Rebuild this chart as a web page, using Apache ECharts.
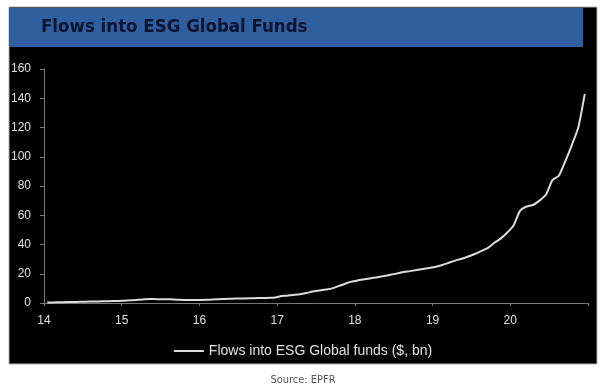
<!DOCTYPE html>
<html>
<head>
<meta charset="utf-8">
<script src="https://cdn.jsdelivr.net/npm/echarts@6/dist/echarts.min.js"></script>
<style>
html,body{margin:0;padding:0;background:#fff;}
#c{width:606px;height:388px;}
</style>
</head>
<body>
<div id="c"></div>
<script>
// Month labels (year-month) and cumulative flows ($ bn)
const months = [
 '2014-01','2014-02','2014-03','2014-04','2014-05','2014-06','2014-07','2014-08','2014-09','2014-10','2014-11','2014-12',
 '2015-01','2015-02','2015-03','2015-04','2015-05','2015-06','2015-07','2015-08','2015-09','2015-10','2015-11','2015-12',
 '2016-01','2016-02','2016-03','2016-04','2016-05','2016-06','2016-07','2016-08','2016-09','2016-10','2016-11','2016-12',
 '2017-01','2017-02','2017-03','2017-04','2017-05','2017-06','2017-07','2017-08','2017-09','2017-10','2017-11','2017-12',
 '2018-01','2018-02','2018-03','2018-04','2018-05','2018-06','2018-07','2018-08','2018-09','2018-10','2018-11','2018-12',
 '2019-01','2019-02','2019-03','2019-04','2019-05','2019-06','2019-07','2019-08','2019-09','2019-10','2019-11','2019-12',
 '2020-01','2020-02','2020-03','2020-04','2020-05','2020-06','2020-07','2020-08','2020-09','2020-10','2020-11','2020-12'
];
const flows = [
 0.3,0.4,0.5,0.6,0.7,0.8,0.9,1.0,1.1,1.2,1.3,1.4,
 1.6,1.8,2.2,2.6,2.7,2.6,2.6,2.5,2.3,2.1,2.0,2.0,
 2.1,2.3,2.5,2.7,2.9,3.0,3.1,3.2,3.3,3.4,3.5,3.6,
 4.6,5.0,5.5,6.0,6.8,7.8,8.5,9.2,10.0,11.5,13.2,14.6,
 15.5,16.3,17.0,17.6,18.4,19.3,20.2,21.2,21.8,22.5,23.3,24.0,
 24.8,26.0,27.5,29.0,30.3,31.8,33.5,35.5,37.5,41.0,44.0,48.0,
 53,63,66,67,70,74,84,87,97,108,120,143
];
const yTicks = [0,20,40,60,80,100,120,140,160];
const xTickLabels = ['14','15','16','17','18','19','20'];
const seriesName = 'Flows into ESG Global funds ($, bn)';
const titleText = 'Flows into ESG Global Funds';
const sourceText = 'Source: EPFR';

// position each monthly point at mid-month on a year axis (14 = 2014)
const points = months.map((m, i) => {
  const [y, mo] = m.split('-').map(Number);
  return [(y - 2000) + (mo - 0.5) / 12, flows[i]];
});

const chart = echarts.init(document.getElementById('c'), null, {renderer: 'canvas'});
chart.setOption({
  backgroundColor: '#ffffff',
  animation: false,
  graphic: [
    {type: 'rect', z: -10, shape: {x: 9, y: 7, width: 588, height: 357},
     style: {fill: '#000000', stroke: '#b0b0b0', lineWidth: 1}},
    {type: 'rect', z: -9, shape: {x: 9, y: 8, width: 574, height: 39},
     style: {fill: '#2f5f9f'}},
    {type: 'text', left: 41, top: 18, z: 5,
     style: {text: titleText, fill: '#0b1430', font: 'bold 18.5px "DejaVu Sans Condensed", "DejaVu Sans", sans-serif'}},
    {type: 'text', left: 'center', top: 375, z: 5,
     style: {text: sourceText, fill: '#555555', font: '11px "Liberation Sans Narrow", "DejaVu Sans Condensed", sans-serif'}}
  ],
  grid: {left: 44, right: 18, top: 69, bottom: 85, containLabel: false},
  legend: {
    bottom: 25, left: 'center',
    data: [seriesName],
    icon: 'rect', itemWidth: 30, itemHeight: 2, itemGap: 6,
    textStyle: {color: '#e0e0e0', fontSize: 14, fontFamily: 'Liberation Sans, Arial, sans-serif'}
  },
  xAxis: {
    type: 'value', min: 14, max: 21, interval: 1,
    axisLine: {show: true, lineStyle: {color: '#777', width: 1}},
    axisTick: {show: true, length: 3, lineStyle: {color: '#777'}},
    splitLine: {show: false},
    axisLabel: {
      color: '#e0e0e0', fontSize: 12, margin: 12, fontFamily: 'Liberation Sans, Arial, sans-serif',
      formatter: v => { const s = String(Math.round(v)); return xTickLabels.includes(s) ? s : ''; }
    }
  },
  yAxis: {
    type: 'value', min: yTicks[0], max: yTicks[yTicks.length - 1], interval: 20,
    axisLine: {show: true, lineStyle: {color: '#777', width: 1}},
    axisTick: {show: true, length: 4, lineStyle: {color: '#777'}},
    splitLine: {show: false},
    axisLabel: {color: '#e0e0e0', fontSize: 12, margin: 13, fontFamily: 'Liberation Sans, Arial, sans-serif'}
  },
  series: [{
    name: seriesName, type: 'line', data: points,
    symbol: 'none', smooth: 0.2,
    lineStyle: {color: '#dcdcdc', width: 2},
    itemStyle: {color: '#dcdcdc'}
  }]
});
</script>
</body>
</html>
